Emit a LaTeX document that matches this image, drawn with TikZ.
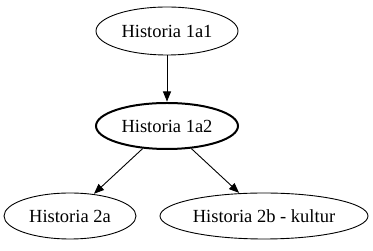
\documentclass[tikz,border=0pt]{standalone}
\usepackage{fontspec}
\setmainfont{Liberation Serif}
\usetikzlibrary{shapes.geometric,arrows.meta}
\begin{document}
\begin{tikzpicture}[x=1pt,y=1pt,
  topic/.style={ellipse,draw,line width=0.9pt,inner sep=0pt,font=\fontsize{18.5}{20}\selectfont},
  link/.style={draw,line width=0.9pt,-{Triangle[length=10pt,width=8pt]},shorten >=0.5pt}]
\useasboundingbox (0,0) rectangle (373,251);
\node[topic,minimum width=142,minimum height=48] (h1) at (167,220) {Historia 1a1};
\node[topic,line width=2pt,minimum width=142,minimum height=46] (h2) at (167,125) {Historia 1a2};
\node[topic,minimum width=132,minimum height=46] (h2a) at (70,35) {Historia 2a};
\node[topic,minimum width=208,minimum height=46] (h2b) at (264,35) {Historia 2b - kultur};
\draw[link] (h1) -- (h2);
\draw[link] (h2) -- (h2a);
\draw[link] (h2) -- (h2b);
\end{tikzpicture}
\end{document}
